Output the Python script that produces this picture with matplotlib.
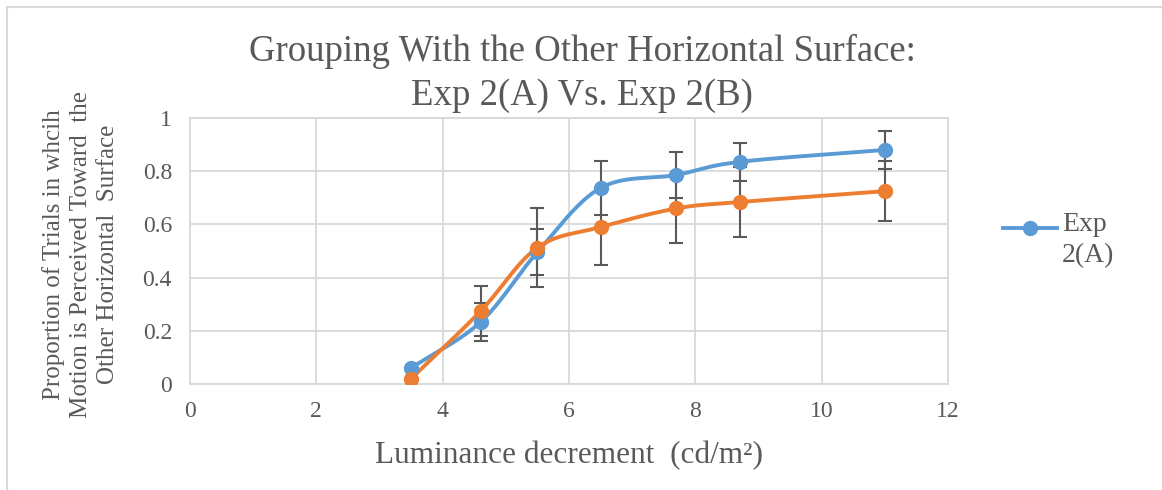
import numpy as np
import matplotlib.pyplot as plt
from matplotlib.lines import Line2D

# luminance decrement (cd/m^2)
lum = [3.5, 4.6, 5.5, 6.5, 7.7, 8.7, 11.0]

exp2a = [0.06, 0.233, 0.496, 0.737, 0.786, 0.835, 0.88]
exp2a_err = [0.0, 0.07, 0.087, 0.10, 0.088, 0.07, 0.07]

exp2b = [0.02, 0.274, 0.513, 0.59, 0.66, 0.684, 0.725]
exp2b_err = [0.0, 0.095, 0.148, 0.143, 0.13, 0.13, 0.113]

BLUE = "#5B9BD5"
ORANGE = "#ED7D31"
GREY = "#595959"
GRID = "#D9D9D9"
plt.rcParams["font.family"] = ["Liberation Serif", "DejaVu Serif"]


def smooth(x, y, n=30):
    # Catmull-Rom curve through the points, like Excel's smoothed line
    x = np.asarray(x, float); y = np.asarray(y, float)
    px = np.concatenate([[2 * x[0] - x[1]], x, [2 * x[-1] - x[-2]]])
    py = np.concatenate([[2 * y[0] - y[1]], y, [2 * y[-1] - y[-2]]])
    xs, ys = [], []
    t = np.linspace(0, 1, n)
    for i in range(1, len(px) - 2):
        for p, out in ((px, xs), (py, ys)):
            p0, p1, p2, p3 = p[i - 1], p[i], p[i + 1], p[i + 2]
            out.append(0.5 * (2 * p1 + (-p0 + p2) * t
                              + (2 * p0 - 5 * p1 + 4 * p2 - p3) * t ** 2
                              + (-p0 + 3 * p1 - 3 * p2 + p3) * t ** 3))
    return np.concatenate(xs), np.concatenate(ys)


fig = plt.figure(figsize=(11.62, 4.9), dpi=100)
ax = fig.add_axes([190 / 1162, 1 - 384 / 490, 758 / 1162, 266 / 490])

for yv, err, col in ((exp2a, exp2a_err, BLUE), (exp2b, exp2b_err, ORANGE)):
    sx, sy = smooth(lum, yv)
    ax.plot(sx, sy, color=col, lw=2.8, zorder=3, solid_capstyle="round")
    ax.errorbar(lum, yv, yerr=err, fmt="none", ecolor=GREY, elinewidth=1.5,
                capsize=5, capthick=1.5, zorder=2)
    ax.plot(lum, yv, "o", color=col, ms=10, zorder=4)

ax.set_xlim(0, 12)
ax.set_ylim(0, 1)
ax.set_xticks(range(0, 13, 2))
ax.set_yticks([0, 0.2, 0.4, 0.6, 0.8, 1])
ax.set_yticklabels(["0", "0.2", "0.4", "0.6", "0.8", "1"])
ax.tick_params(length=0, labelsize=17, colors=GREY)
ax.tick_params(axis="y", pad=13)
ax.tick_params(axis="x", pad=12)
ax.grid(True, color=GRID, lw=1.3)
ax.set_axisbelow(True)
for s in ax.spines.values():
    s.set_color(GRID)
    s.set_linewidth(1.3)

ax.set_xlabel("Luminance decrement  (cd/m²)", fontsize=22.5, color=GREY, labelpad=14)
fig.text(0.069, 0.48, "Proportion of Trials in whcih\nMotion is Perceived Toward  the\nOther Horizontal  Surface",
         rotation=90, ha="center", va="center", fontsize=18, color=GREY, linespacing=1.3)
fig.text(0.501, 0.85, "Grouping With the Other Horizontal Surface:\nExp 2(A) Vs. Exp 2(B)",
         ha="center", va="center", fontsize=26.5, color=GREY, linespacing=1.35)

# legend: only Exp 2(A) is shown, handle aligned with the first text line
leg_y = 1 - 228 / 490
fig.add_artist(Line2D([1003 / 1162, 1057 / 1162], [leg_y, leg_y], color=BLUE, lw=2.8))
fig.add_artist(Line2D([1030 / 1162], [leg_y], color=BLUE, marker="o", ms=10))
fig.text(1062 / 1162, 1 - 212 / 490, "Exp\n2(A)", ha="left", va="top",
         fontsize=20, color=GREY, linespacing=1.3)

# chart border (left and top edge visible)
fig.add_artist(Line2D([7 / 1162, 7 / 1162], [0, 1 - 7 / 490], color=GRID, lw=1.5))
fig.add_artist(Line2D([7 / 1162, 1], [1 - 7 / 490, 1 - 7 / 490], color=GRID, lw=1.5))

fig.savefig("out.png", dpi=100)
